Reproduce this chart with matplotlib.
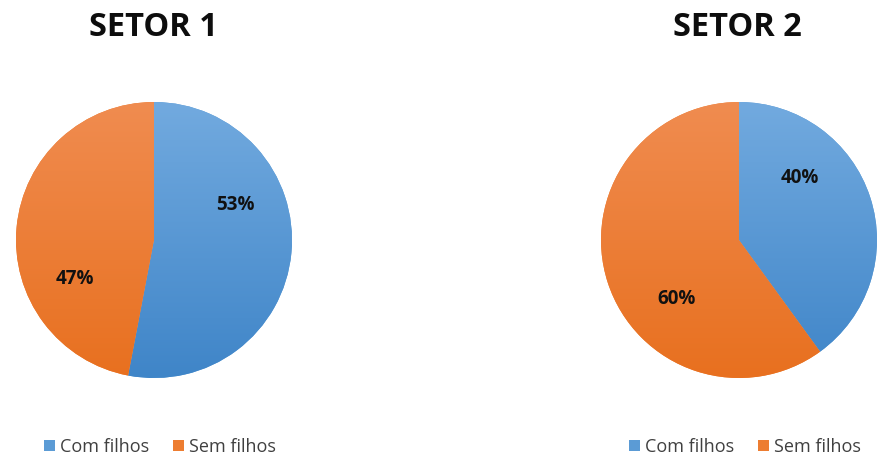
import numpy as np
import matplotlib.pyplot as plt
import matplotlib.colors as mcolors

# Dados dos dois setores
categorias = ["Com filhos", "Sem filhos"]
setores = ["SETOR 1", "SETOR 2"]
valores_setor1 = [53, 47]
valores_setor2 = [40, 60]
# posicao dos rotulos (fracao do raio), como no grafico original
pos_rotulos_setor1 = [(0.59, 0.25), (-0.57, -0.28)]
pos_rotulos_setor2 = [(0.44, 0.45), (-0.45, -0.43)]

cores = ["#5b9bd5", "#ed7d31"]
cores_topo = ["#72aadf", "#f08c50"]
cores_base = ["#3f85c8", "#e8701f"]

plt.rcParams["font.family"] = ["Open Sans", "DejaVu Sans"]

fig = plt.figure(figsize=(8.77, 4.59), dpi=100)
caixas = [[16 / 877, 81 / 459, 276 / 877, 276 / 459],
          [601 / 877, 81 / 459, 276 / 877, 276 / 459]]
titulos_x = [153 / 877, 737 / 877]
legenda_x = [160 / 877, 745 / 877]

for i, valores in enumerate([valores_setor1, valores_setor2]):
    ax = fig.add_axes(caixas[i])
    wedges, textos, pcts = ax.pie(valores, colors=cores, startangle=90, counterclock=False,
                                  autopct="%1.0f%%", radius=1,
                                  textprops=dict(fontsize=13.5, fontweight="bold", color="#111111"))
    posicoes = [pos_rotulos_setor1, pos_rotulos_setor2][i]
    for t, p in zip(pcts, posicoes):
        t.set_position(p)
        t.set_zorder(5)
    # degrade vertical dentro de cada fatia
    for w, c0, c1 in zip(wedges, cores_topo, cores_base):
        cmap = mcolors.LinearSegmentedColormap.from_list("g", [c1, c0])
        grad = np.linspace(0, 1, 256).reshape(-1, 1)
        im = ax.imshow(grad, cmap=cmap, extent=(-1, 1, -1, 1), origin="lower",
                       aspect="auto", zorder=2)
        im.set_clip_path(w)
    ax.set_xlim(-1, 1)
    ax.set_ylim(-1, 1)
    ax.set_aspect("equal")
    ax.axis("off")

    fig.text(titulos_x[i], 1 - 27 / 459, setores[i], ha="center", va="center",
             fontsize=23.5, fontweight="bold", color="#0d0d0d")
    fig.legend(wedges, categorias, loc="center", bbox_to_anchor=(legenda_x[i], 1 - 447 / 459),
               ncol=2, frameon=False, fontsize=13, handlelength=0.6, handleheight=0.6,
               handletextpad=0.3, columnspacing=1.3, labelcolor="#404040")

fig.savefig("out.png", dpi=100)
